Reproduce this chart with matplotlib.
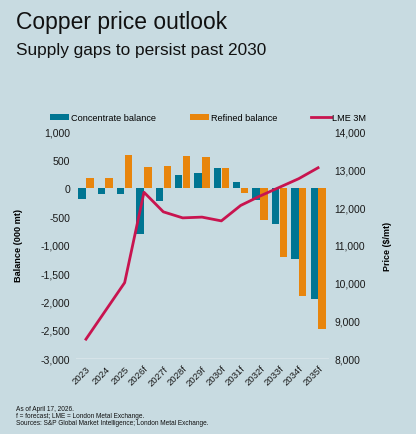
import numpy as np
import matplotlib
matplotlib.use("Agg")
import matplotlib.pyplot as plt
from matplotlib.ticker import FuncFormatter

plt.rcParams['font.family'] = ['Liberation Sans', 'DejaVu Sans']

BG = '#c8dbe1'
TEAL = '#007592'
ORANGE = '#e8850c'
CRIMSON = '#c8144f'

years = ['2023', '2024', '2025', '2026f', '2027f', '2028f', '2029f', '2030f',
         '2031f', '2032f', '2033f', '2034f', '2035f']
concentrate = [-180, -100, -100, -800, -230, 235, 270, 365, 120, -205, -625, -1245, -1960]
refined = [180, 180, 600, 380, 390, 570, 560, 370, -85, -560, -1220, -1905, -2495]
lme_3m = [8500, 9250, 10000, 12400, 11880, 11720, 11740, 11640, 12050, 12300, 12530, 12760, 13050]

fig = plt.figure(figsize=(4.16, 4.35), dpi=100, facecolor=BG)
ax = fig.add_axes([0.1834, 0.1747, 0.6044, 0.5196])
ax.set_facecolor(BG)

x = np.arange(len(years))
w = 0.38
ax.bar(x - 0.2, concentrate, w, color=TEAL, label='Concentrate balance', zorder=2)
ax.bar(x + 0.2, refined, w, color=ORANGE, label='Refined balance', zorder=2)
ax.set_xlim(-0.5, len(years) - 0.5)
ax.set_ylim(-3000, 1000)
ax.set_yticks(range(-3000, 1001, 500))
ax.yaxis.set_major_formatter(FuncFormatter(lambda v, p: f'{int(v):,}'))
ax.set_xticks(x)
ax.set_xticklabels(years, rotation=45, ha='right', rotation_mode='anchor', fontsize=6.8)
ax.tick_params(axis='y', length=0, labelsize=7.6, colors='#1a1a1a', pad=4.5)
ax.tick_params(axis='x', length=0, colors='#1a1a1a', pad=4)
for s in ['top', 'left', 'right']:
    ax.spines[s].set_visible(False)
ax.spines['bottom'].set_color('#d6e3e8')
ax.spines['bottom'].set_linewidth(0.8)
ax.set_ylabel('Balance (000 mt)', fontsize=6.6, fontweight='bold')
ax.yaxis.set_label_coords(-0.212, 0.5)

ax2 = ax.twinx()
ax2.plot(x, lme_3m, color=CRIMSON, lw=2, label='LME 3M', zorder=3)
ax2.set_ylim(8000, 14000)
ax2.set_yticks(range(8000, 14001, 1000))
ax2.yaxis.set_major_formatter(FuncFormatter(lambda v, p: f'{int(v):,}'))
ax2.tick_params(axis='y', length=0, labelsize=7.4, pad=5, colors='#1a1a1a')
for s in ['top', 'left', 'right', 'bottom']:
    ax2.spines[s].set_visible(False)
ax2.set_ylabel('Price ($/mt)', fontsize=6.4, fontweight='bold')
ax2.yaxis.set_label_coords(1.22, 0.5)

h1, l1 = ax.get_legend_handles_labels()
h2, l2 = ax2.get_legend_handles_labels()
fig.legend(h1 + h2, l1 + l2, loc='center left', bbox_to_anchor=(50 / 416, 1 - 119 / 435),
           ncol=3, frameon=False, fontsize=6.6, handlelength=2.1, handleheight=0.65,
           handletextpad=0.2, columnspacing=3.7, borderpad=0, borderaxespad=0)

fig.text(16 / 416, 1 - 22 / 435, 'Copper price outlook', fontsize=16.5, va='center', color='#111111')
fig.text(16 / 416, 1 - 50 / 435, 'Supply gaps to persist past 2030', fontsize=12.4, va='center', color='#111111')

notes = ['As of April 17, 2026.',
         'f = forecast; LME = London Metal Exchange.',
         'Sources: S&P Global Market Intelligence; London Metal Exchange.']
for i, t in enumerate(notes):
    fig.text(16 / 416, 1 - (410 + i * 6.6) / 435, t, fontsize=4.7, va='center', color='#111111')

fig.savefig('out.png', dpi=100, facecolor=BG)
